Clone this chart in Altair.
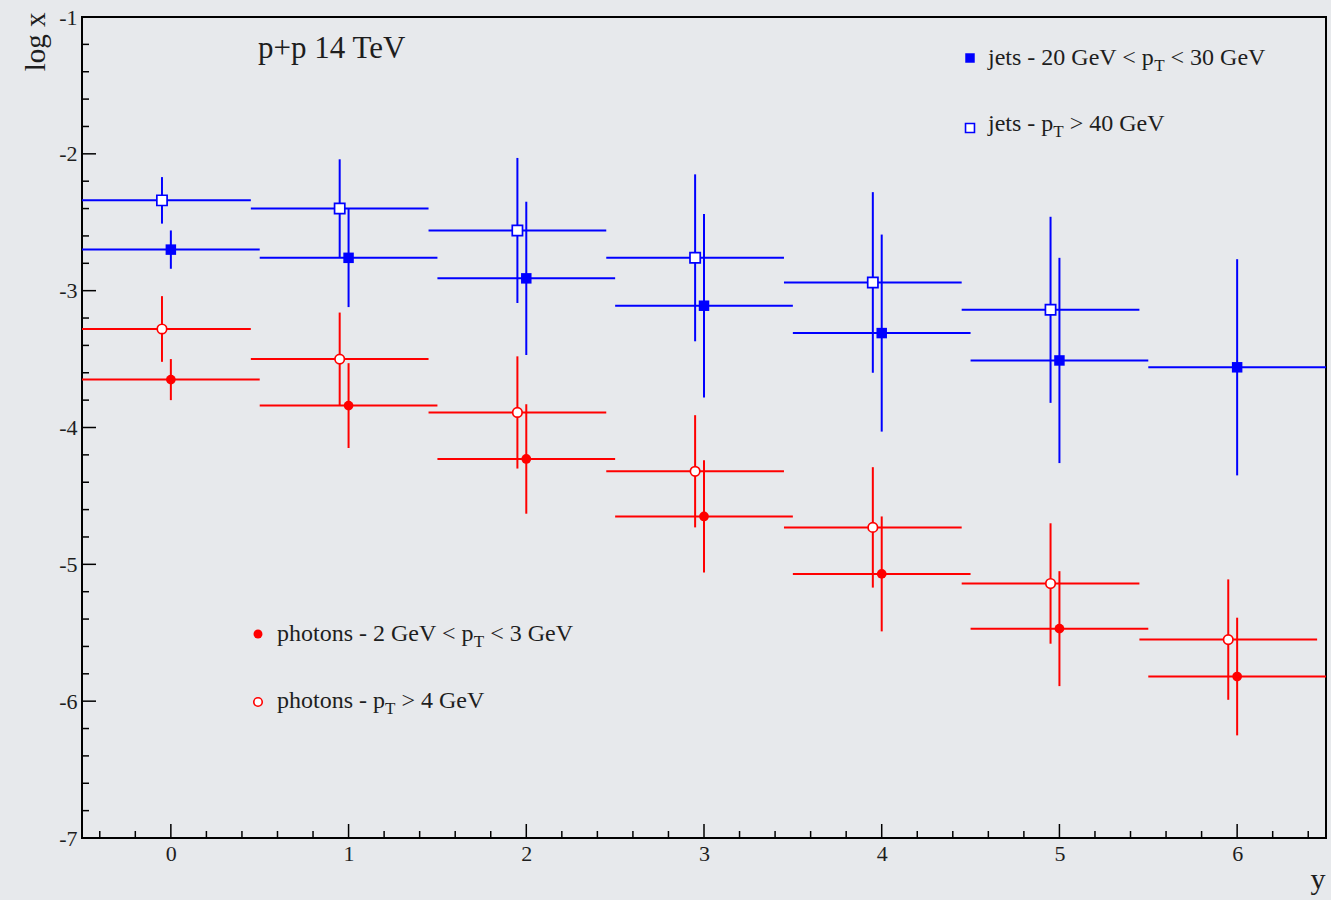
import altair as alt
import pandas as pd

# ---------------- data ----------------
rapidity = [0, 1, 2, 3, 4, 5, 6]
open_shift = -0.05          # open markers are drawn slightly left of the bin centre
half_bin = 0.5

jets_lo = [-2.70, -2.76, -2.91, -3.11, -3.31, -3.51, -3.56]
jets_lo_err = [0.14, 0.36, 0.56, 0.67, 0.72, 0.75, 0.79]

jets_hi = [-2.34, -2.40, -2.56, -2.76, -2.94, -3.14]
jets_hi_err = [0.17, 0.36, 0.53, 0.61, 0.66, 0.68]

phot_lo = [-3.65, -3.84, -4.23, -4.65, -5.07, -5.47, -5.82]
phot_lo_err = [0.15, 0.31, 0.40, 0.41, 0.42, 0.42, 0.43]

phot_hi = [-3.28, -3.50, -3.89, -4.32, -4.73, -5.14, -5.55]
phot_hi_err = [0.24, 0.34, 0.41, 0.41, 0.44, 0.44, 0.44]

x_tick_labels = [0, 1, 2, 3, 4, 5, 6]
y_tick_labels = [-7, -6, -5, -4, -3, -2, -1]
x_minor = [-0.4, -0.2, 0.2, 0.4, 0.6, 0.8, 1.2, 1.4, 1.6, 1.8, 2.2, 2.4, 2.6, 2.8,
           3.2, 3.4, 3.6, 3.8, 4.2, 4.4, 4.6, 4.8, 5.2, 5.4, 5.6, 5.8, 6.2, 6.4]
y_minor = [-6.8, -6.6, -6.4, -6.2, -5.8, -5.6, -5.4, -5.2, -4.8, -4.6, -4.4, -4.2,
           -3.8, -3.6, -3.4, -3.2, -2.8, -2.6, -2.4, -2.2, -1.8, -1.6, -1.4, -1.2]

legend_rows = [
    # (before subscript, subscript, after subscript, colour, shape, filled)
    ("jets - 20 GeV < p", "T", " < 30 GeV", "#0000ff", "square", True),
    ("jets - p", "T", " > 40 GeV", "#0000ff", "square", False),
    ("photons - 2 GeV < p", "T", " < 3 GeV", "#ff0000", "circle", True),
    ("photons - p", "T", " > 4 GeV", "#ff0000", "circle", False),
]

# ---------------- layout / style ----------------
W, H = 1244, 821
FONT = "Liberation Serif"
BLUE = "#0000ff"
RED = "#ff0000"
INK = "#1e1e1e"
LEG_SIZE = 24
SUB_SIZE = 17
# marker centre (x, y) and text start / baseline for each legend row, in view pixels
legend_pos = [(888, 41, 906, 48), (888, 111, 906, 114),
              (176, 617, 195, 624), (176, 685, 195, 691)]

# advance widths of Liberation Serif (Times metrics), units per 1000 em
ADV = {" ": 250, "-": 333, "<": 564, ">": 564, "G": 722, "e": 444, "V": 722, "T": 611,
       "j": 278, "t": 278, "s": 389, "p": 500, "h": 500, "o": 500, "n": 500}


def text_width(s, size):
    return sum(ADV.get(c, 500) for c in s) * size / 1000.0


xs = alt.Scale(domain=[-0.5, 6.5], nice=False, zero=False)
ys = alt.Scale(domain=[-7, -1], nice=False, zero=False)

AX_X = alt.Axis(
    values=x_tick_labels, ticks=False, tickSize=0, domain=False, grid=False,
    labelFont=FONT, labelFontSize=22, labelColor=INK, labelPadding=5,
    labelExpr="'' + datum.value",
    title="y", titleFont=FONT, titleFontSize=30, titleFontWeight="normal",
    titleColor=INK, titleX=W - 1, titleY=50, titleAlign="right",
    titleBaseline="alphabetic")
AX_Y = alt.Axis(
    values=y_tick_labels, ticks=False, tickSize=0, domain=False, grid=False,
    labelFont=FONT, labelFontSize=22, labelColor=INK, labelPadding=5,
    labelExpr="'' + datum.value",
    title="log x", titleFont=FONT, titleFontSize=29, titleFontWeight="normal",
    titleColor=INK, titleAngle=270, titleX=-38, titleY=-5, titleAlign="right",
    titleBaseline="alphabetic")


def X(f):
    return alt.X(f, scale=xs, axis=AX_X)


def Y(f):
    return alt.Y(f, scale=ys, axis=AX_Y)


def frame(xv, yv, ev, shift):
    xv = xv[:len(yv)]
    return pd.DataFrame({"x": [a + shift for a in xv], "y": yv, "e": ev})


def series(df, color, shape, filled):
    base = alt.Chart(df).transform_calculate(
        xl=f"datum.x - {half_bin}", xh=f"datum.x + {half_bin}",
        yl="datum.y - datum.e", yh="datum.y + datum.e")
    h = base.mark_rule(color=color, strokeWidth=2, clip=True).encode(
        x=X("xl:Q"), x2="xh:Q", y=Y("y:Q"))
    v = base.mark_rule(color=color, strokeWidth=2, clip=True).encode(
        x=X("x:Q"), y=Y("yl:Q"), y2="yh:Q")
    if filled:
        p = base.mark_point(shape=shape, filled=True, color=color, opacity=1,
                            size=110 if shape == "square" else 95)
    else:
        p = base.mark_point(shape=shape, fill="white", fillOpacity=1, stroke=color,
                            strokeWidth=1.7, opacity=1,
                            size=105 if shape == "square" else 90)
    p = p.encode(x=X("x:Q"), y=Y("y:Q"))
    return [h, v, p]


xt_major = alt.Chart(pd.DataFrame({"v": x_tick_labels})).mark_rule(color="black", strokeWidth=1.5).encode(
    x=X("v:Q"), y=alt.value(H), y2=alt.value(H - 14))
xt_minor = alt.Chart(pd.DataFrame({"v": x_minor})).mark_rule(color="black", strokeWidth=1.5).encode(
    x=X("v:Q"), y=alt.value(H), y2=alt.value(H - 7))
yt_major = alt.Chart(pd.DataFrame({"v": y_tick_labels})).mark_rule(color="black", strokeWidth=1.5).encode(
    y=Y("v:Q"), x=alt.value(0), x2=alt.value(14))
yt_minor = alt.Chart(pd.DataFrame({"v": y_minor})).mark_rule(color="black", strokeWidth=1.5).encode(
    y=Y("v:Q"), x=alt.value(0), x2=alt.value(7))

one = alt.Data(values=[{"a": 1}])


def txt(s, x, y, size=LEG_SIZE):
    return alt.Chart(one).mark_text(text=s, font=FONT, fontSize=size, color=INK,
                                    align="left", baseline="alphabetic").encode(
        x=alt.value(x), y=alt.value(y))


def marker(x, y, color, shape, filled):
    if filled:
        m = alt.Chart(one).mark_point(shape=shape, filled=True, color=color, opacity=1,
                                      size=90 if shape == "square" else 80)
    else:
        m = alt.Chart(one).mark_point(shape=shape, fill="white", fillOpacity=1, stroke=color,
                                      strokeWidth=1.6, opacity=1,
                                      size=80 if shape == "square" else 72)
    return m.encode(x=alt.value(x), y=alt.value(y))


labels = [txt("p+p 14 TeV", 176, 41, size=31)]
for (pre, sub, post, col, shp, fil), (mx, my, tx, ty) in zip(legend_rows, legend_pos):
    w1 = text_width(pre, LEG_SIZE)
    w2 = text_width(sub, SUB_SIZE)
    lead = text_width(post[:len(post) - len(post.lstrip())], LEG_SIZE)
    labels += [
        marker(mx, my, col, shp, fil),
        txt(pre, tx, ty),
        txt(sub, tx + w1, ty + 6, size=SUB_SIZE),
        txt(post.lstrip(), tx + w1 + w2 + lead, ty),
    ]

layers = [xt_major, xt_minor, yt_major, yt_minor]
layers += series(frame(rapidity, jets_hi, jets_hi_err, open_shift), BLUE, "square", False)
layers += series(frame(rapidity, jets_lo, jets_lo_err, 0.0), BLUE, "square", True)
layers += series(frame(rapidity, phot_hi, phot_hi_err, open_shift), RED, "circle", False)
layers += series(frame(rapidity, phot_lo, phot_lo_err, 0.0), RED, "circle", True)
layers += labels

chart = alt.layer(*layers).properties(
    width=W, height=H,
    autosize=alt.AutoSizeParams(type="none"),
    padding={"left": 82, "top": 17, "right": 5, "bottom": 62},
    background="#e7e9ec",
).configure_view(stroke="black", strokeWidth=2)

chart.save("out.html", embed_options={"renderer": "svg", "actions": False})
